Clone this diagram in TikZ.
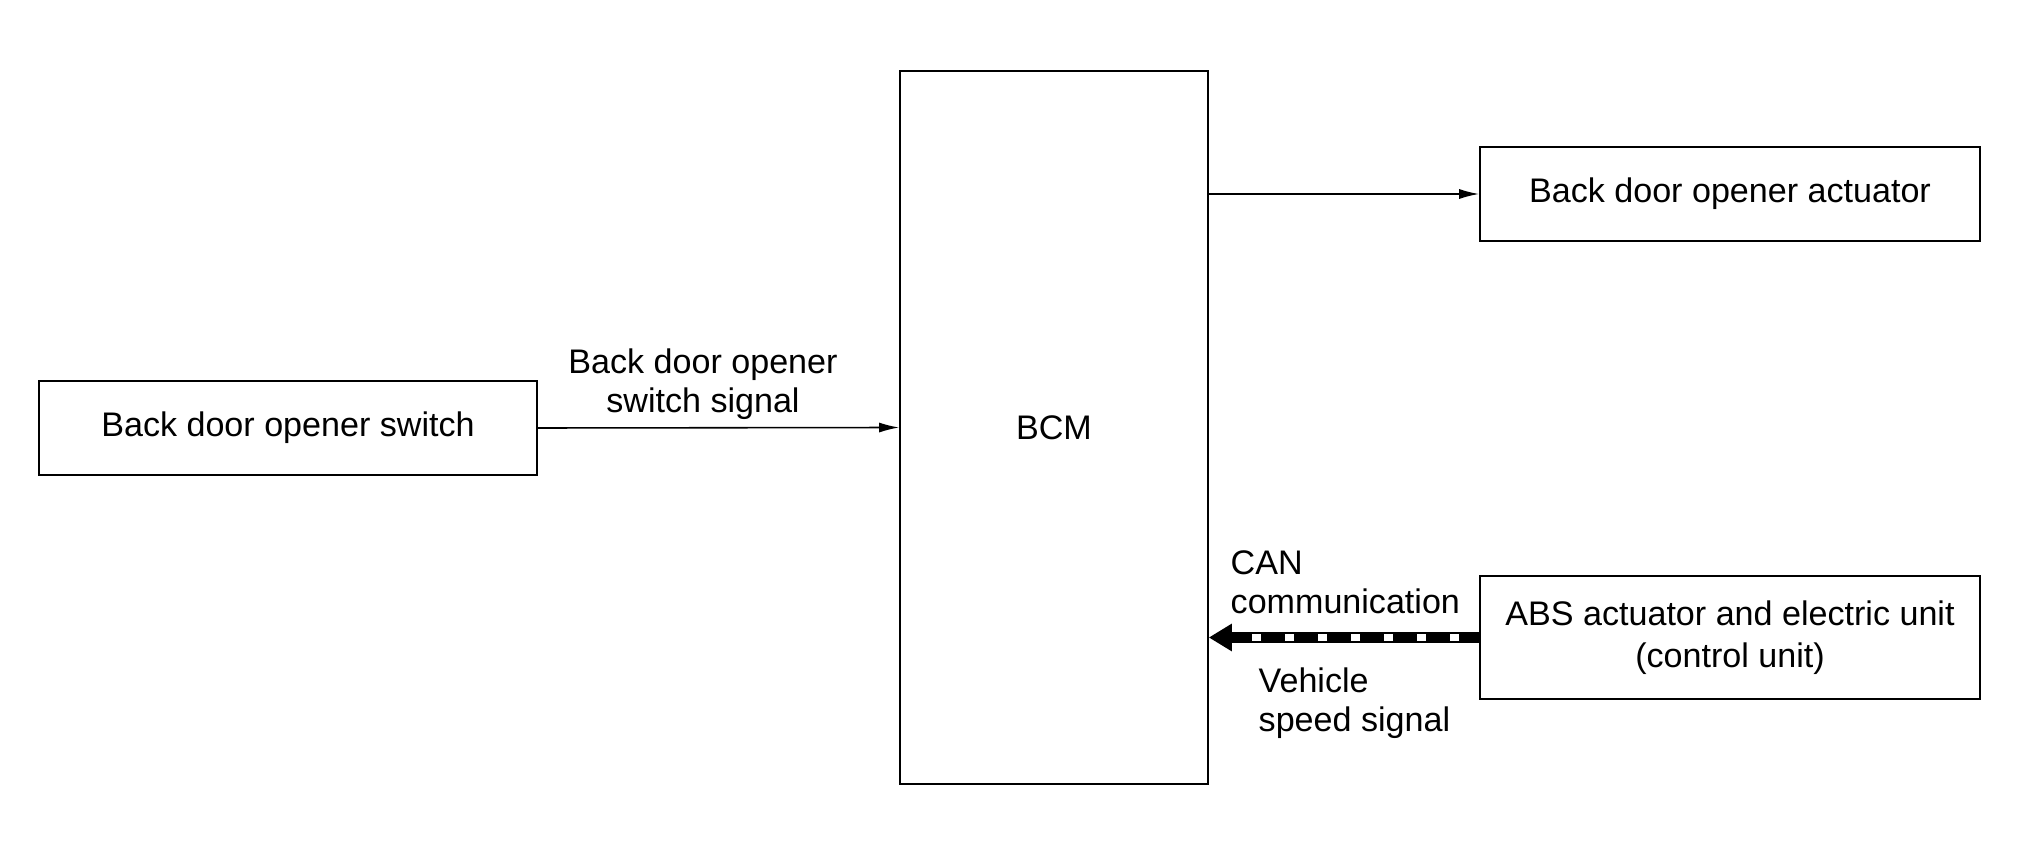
\documentclass[tikz,border=0pt]{standalone}
\usepackage{fontspec}
\setmainfont{Liberation Sans}
\usetikzlibrary{arrows.meta}

\tikzset{
    box/.style = {draw, line width=0.45pt, inner sep=0pt, align=center},
    lbl/.style = {inner sep=0pt},
    sig/.style = {line width=0.45pt, -{Latex[length=2mm,width=1mm]}},
}

\begin{document}
\begin{tikzpicture}[font=\fontsize{9.7}{11}\selectfont]

    \useasboundingbox (0,0) rectangle (20.2,8.51);

    % blocks
    \node[box, minimum width=4.98cm, minimum height=0.94cm] (sw) at (2.88, 4.23) {Back door opener switch};
    \node[box, minimum width=3.08cm, minimum height=7.13cm] (bcm) at (10.54, 4.235) {BCM};
    \node[box, minimum width=5.00cm, minimum height=0.94cm] (act) at (17.30, 6.57) {Back door opener actuator};
    \node[box, minimum width=5.00cm, minimum height=1.23cm, font=\fontsize{9.7}{12.1}\selectfont] (abs) at (17.30, 2.135)
        {ABS actuator and electric unit\\(control unit)};

    % signals
    \draw[sig] (sw.east) -- (bcm.west);
    \draw[sig] (bcm.east |- act.west) -- (act.west);

    % CAN line
    \coordinate (canend) at (abs.west -| bcm.east);
    \draw[line width=3.4pt, -{Triangle[length=2.3mm,width=2.6mm]}] (abs.west) -- (canend);
    \draw[white, line width=1.9pt, dash pattern=on 0.9mm off 2.4mm, dash phase=1.3mm]
        (abs.west) -- ([xshift=2.6mm]canend);

    % labels
    \node[lbl, align=center] (swlbl) at (7.03, 4.67) {Back door opener\\switch signal};
    \node[lbl, align=left, anchor=west] (canlbl) at (12.30, 2.69) {CAN\\communication};
    \node[lbl, align=left, anchor=west] (spdlbl) at (12.58, 1.48) {Vehicle\\speed signal};

\end{tikzpicture}
\end{document}
